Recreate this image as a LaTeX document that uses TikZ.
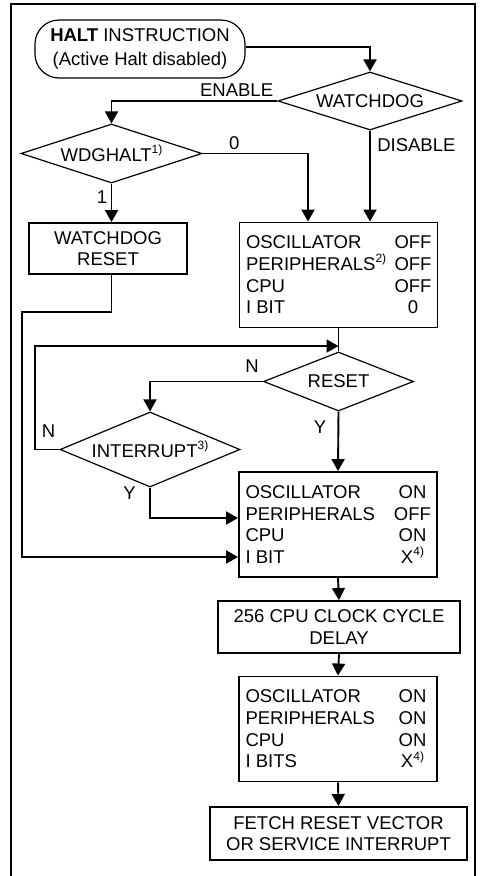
\documentclass[tikz,border=0pt]{standalone}
\usepackage{fontspec}
\setmainfont{Liberation Sans}
\usepackage{tikz}
\usetikzlibrary{arrows.meta, calc, shapes}
\newcommand{\statrow}[2]{\makebox[149pt][l]{#1}\makebox[36pt][c]{#2}}
\newcommand{\fnote}[1]{\raisebox{0.42em}{\fontsize{12}{12}\selectfont #1}}

\begin{document}
\begin{tikzpicture}[x=1pt, y=-1pt, font=\fontsize{18.5}{21.7}\selectfont,
  flowbox/.style={draw, line width=1.9pt, align=center, inner sep=0pt},
  statebox/.style={flowbox, align=left, minimum width=198pt, minimum height=105pt},
  terminal/.style={draw, line width=1.2pt, rounded corners=24pt, align=center, inner sep=0pt, minimum width=210pt, minimum height=58pt},
  decision/.style={draw, diamond, line width=1.2pt, inner sep=0pt},
  wire/.style={line width=1.9pt},
  flow/.style={wire, -{Triangle[length=12pt,width=13pt]}},
  frame/.style={line width=2pt}]
  \useasboundingbox (0,0) rectangle (483,876);
  \draw[frame] (10.5,876) -- (10.5,3.5) -- (474.5,3.5) -- (474.5,876);

  \node[terminal] (halt) at (140,49) {\textbf{HALT} INSTRUCTION\\[2pt](Active Halt disabled)};
  \node[decision, aspect=3.2, minimum width=184pt, minimum height=58pt] (wd) at (370,101) {WATCHDOG};
  \node[decision, aspect=3.1, minimum width=181pt, minimum height=59pt] (wdg) at (111.5,153.5) {WDGHALT\fnote{1)}};
  \node[flowbox, minimum width=158pt, minimum height=51pt] (wdr) at (108,248.5) {WATCHDOG\\RESET};
  \node[statebox] (off) at (338.5,275) {\statrow{OSCILLATOR}{OFF}\\\statrow{PERIPHERALS\fnote{2)}}{OFF}\\\statrow{CPU}{OFF}\\\statrow{I BIT}{0}};
  \node[decision, aspect=2.5, minimum width=150pt, minimum height=59pt] (rst) at (338.5,381.5) {RESET};
  \node[decision, aspect=2.4, minimum width=180pt, minimum height=75pt] (int) at (150,449.5) {INTERRUPT\fnote{3)}};
  \node[statebox] (on) at (338,524.5) {\statrow{OSCILLATOR}{ON}\\\statrow{PERIPHERALS}{OFF}\\\statrow{CPU}{ON}\\\statrow{I BIT}{X\fnote{4)}}};
  \node[flowbox, minimum width=242pt, minimum height=52pt] (dly) at (339,627) {256 CPU CLOCK CYCLE\\DELAY};
  \node[statebox] (on2) at (338,729) {\statrow{OSCILLATOR}{ON}\\\statrow{PERIPHERALS}{ON}\\\statrow{CPU}{ON}\\\statrow{I BITS}{X\fnote{4)}}};
  \node[flowbox, minimum width=257pt, minimum height=53pt] (fetch) at (338.5,833.5) {FETCH RESET VECTOR\\OR SERVICE INTERRUPT};

  \coordinate (lp) at (22,312);
  \coordinate (jn) at (338.5,346);

  \draw[flow] ([yshift=2pt]halt.east) -| (wd.north);
  \draw[flow] (wd.west) node[above left]{ENABLE} -| (wdg.north);
  \draw[flow] (wd.south) -- node[right, pos=0.16, xshift=3pt]{DISABLE} (wd.south |- off.north);
  \draw[flow] (wdg.east) -| node[above, pos=0.15]{0} ([xshift=-30.5pt]off.north);
  \draw[flow] (wdg.south) -- node[left, pos=0.35]{1} (wdg.south |- wdr.north);
  \draw[flow] (wdg.south |- wdr.south) |- (lp) |- ([yshift=-32.5pt]on.west);
  \draw[wire] (off.south) -- (rst.north);
  \draw[flow] (rst.west) node[above left, yshift=5pt]{N} -| (int.north);
  \draw[flow] (int.west) node[above left, yshift=8pt]{N} -- ++(-24,0) |- (jn);
  \draw[flow] (rst.south) -- node[left, pos=0.26, xshift=-8pt]{Y} (on.north);
  \draw[flow] (int.south) node[below left, xshift=-10pt, yshift=5pt]{Y} |- ([yshift=6.5pt]on.west);
  \draw[flow] (on.south) -- (dly.north);
  \draw[flow] (dly.south) -- (on2.north);
  \draw[flow] (on2.south) -- (fetch.north);
\end{tikzpicture}
\end{document}
